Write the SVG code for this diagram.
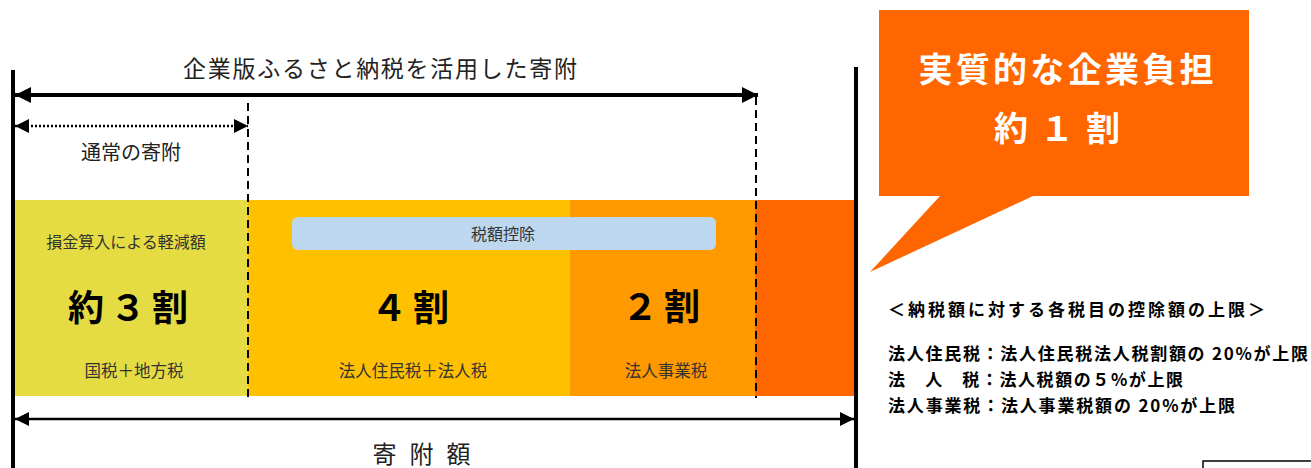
<svg xmlns="http://www.w3.org/2000/svg" width="1311" height="468" viewBox="0 0 1311 468">
<style>
text{font-family:"Noto Sans CJK JP","Noto Sans",sans-serif;fill:#000}
.t{fill:#222}
.big{font-weight:bold;font-size:36px}
.sm{font-size:16px;fill:#333}
.md{font-size:16.5px;fill:#333}
.note{font-weight:bold;font-size:17px}
.wt{fill:#fff;font-weight:bold;font-size:34px}
.dash{stroke:#000;stroke-width:2;stroke-dasharray:8,5;fill:none}
</style>
<defs>
<marker id="ah" viewBox="0 0 10 10" refX="10" refY="5" markerWidth="16" markerHeight="16" markerUnits="userSpaceOnUse" orient="auto-start-reverse"><path d="M0,0 L10,5 L0,10 z" fill="#000"/></marker>
<marker id="ah2" viewBox="0 0 10 10" refX="10" refY="5" markerWidth="14" markerHeight="14" markerUnits="userSpaceOnUse" orient="auto-start-reverse"><path d="M0,0 L10,5 L0,10 z" fill="#000"/></marker>
</defs>
<rect width="1311" height="468" fill="#fff"/>
<g id="bar-yellow"><rect x="15" y="200" width="233" height="196" fill="#E5DC44"/>
<text class="sm" x="126" y="248" text-anchor="middle">損金算入による軽減額</text>
<text class="big" x="131" y="321" text-anchor="middle" letter-spacing="6">約３割</text>
<text class="md" x="134" y="377" text-anchor="middle">国税＋地方税</text></g>
<g id="bar-amber"><rect x="248" y="200" width="322" height="196" fill="#FFC000"/>
<text class="big" x="413" y="321" text-anchor="middle" letter-spacing="6">４割</text>
<text class="md" x="413" y="377" text-anchor="middle">法人住民税＋法人税</text></g>
<g id="bar-orange"><rect x="570" y="200" width="185" height="196" fill="#FF9900"/>
<text class="big" x="664" y="320" text-anchor="middle" letter-spacing="6">２割</text>
<text class="md" x="666" y="377" text-anchor="middle">法人事業税</text></g>
<g id="bar-red"><rect x="755" y="200" width="99" height="196" fill="#FF6600"/></g>
<g id="zeigaku"><rect x="292" y="217" width="424" height="33" rx="6" fill="#BDD7EE"/>
<text class="sm" x="503" y="240" text-anchor="middle">税額控除</text></g>
<g id="connectors">
<line x1="13" y1="70" x2="13" y2="468" stroke="#000" stroke-width="4"/>
<line x1="856" y1="67" x2="856" y2="468" stroke="#000" stroke-width="4"/>
<line x1="15" y1="95" x2="758" y2="95" stroke="#000" stroke-width="4" marker-start="url(#ah)" marker-end="url(#ah)"/>
<line x1="15" y1="126" x2="248" y2="126" stroke="#000" stroke-width="2.5" stroke-dasharray="2,2" marker-start="url(#ah2)" marker-end="url(#ah2)"/>
<line x1="248" y1="103" x2="248" y2="398" class="dash"/>
<line x1="756" y1="97" x2="756" y2="398" class="dash"/>
<line x1="15" y1="419" x2="854" y2="419" stroke="#000" stroke-width="2.5" marker-start="url(#ah2)" marker-end="url(#ah2)"/>
</g>
<g id="labels">
<text class="t" x="380" y="77" text-anchor="middle" font-size="23" textLength="394" lengthAdjust="spacing">企業版ふるさと納税を活用した寄附</text>
<text class="t" x="131" y="160" text-anchor="middle" font-size="20">通常の寄附</text>
<text class="t" x="428" y="463" text-anchor="middle" font-size="24" letter-spacing="13">寄附額</text>
</g>
<g id="callout">
<path d="M879,10 H1249 V196 H1033 L870,272 L940,196 H879 Z" fill="#FF6600"/>
<text class="wt" x="1066" y="82" text-anchor="middle" textLength="295" lengthAdjust="spacing">実質的な企業負担</text>
<text class="wt" x="1063" y="141" text-anchor="middle" letter-spacing="12">約１割</text>
</g>
<g id="notes">
<text class="note" x="888" y="316" textLength="377" lengthAdjust="spacing">＜納税額に対する各税目の控除額の上限＞</text>
<text class="note" x="888" y="360" textLength="420" lengthAdjust="spacing">法人住民税：法人住民税法人税割額の 20%が上限</text>
<text class="note" x="888" y="386" textLength="295" lengthAdjust="spacing">法　人　税：法人税額の５%が上限</text>
<text class="note" x="888" y="412" textLength="347" lengthAdjust="spacing">法人事業税：法人事業税額の 20%が上限</text>
</g>
<g id="box"><rect x="1203" y="461" width="120" height="20" fill="none" stroke="#000" stroke-width="1.5"/></g>
</svg>
